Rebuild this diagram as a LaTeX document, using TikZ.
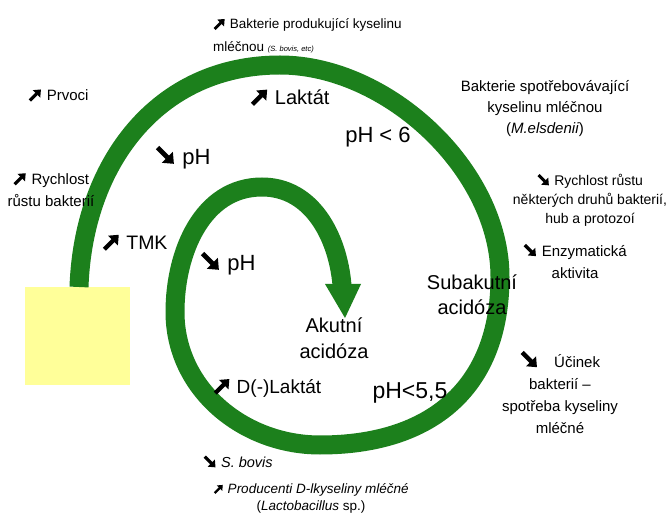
\documentclass[tikz,border=0pt]{standalone}
\usepackage{fontspec}
\usetikzlibrary{arrows.meta}
\setmainfont{Liberation Sans}
\newcommand\arrUp{\tikz[baseline=0pt,x=1em,y=1em]{\draw[black,line width=.22em,line cap=butt,-{Triangle[width=.68em,length=.42em]}] (0.04,0.0)--(0.78,0.74);}}
\newcommand\arrDn{\tikz[baseline=0pt,x=1em,y=1em]{\draw[black,line width=.22em,line cap=butt,-{Triangle[width=.68em,length=.42em]}] (0.04,0.76)--(0.78,0.02);}}
\newcommand\fsz[2]{\fontsize{#1}{#2}\selectfont}
\definecolor{ringgreen}{RGB}{28,128,28}
\definecolor{boxyellow}{RGB}{255,255,153}
\begin{document}
\begin{tikzpicture}[x=1pt,y=1pt,
  lbl/.style={inner sep=0pt, text=black},
  ring/.style={draw=ringgreen, line width=19pt, line cap=butt}]
\useasboundingbox (0,0) rectangle (672,517);
% yellow box
\node[fill=boxyellow, inner sep=0pt, minimum width=105pt, minimum height=98pt, anchor=south west] (box) at (25,132) {};
% spiral
\coordinate (s0) at (79,230);
\coordinate (s1) at (280,452);
\coordinate (s2) at (500,240);
\coordinate (s3) at (320,72);
\coordinate (s4) at (175,205);
\coordinate (s5) at (262,330);
\coordinate (s6) at (342,232);
\draw[ring] (s0) to[out=88,in=180,looseness=1.05] (s1)
  to[out=0,in=90,looseness=0.9] (s2)
  to[out=-90,in=0,looseness=1.15] (s3)
  to[out=180,in=-90] (s4)
  to[out=90,in=180] (s5)
  to[out=0,in=95] (s6);
\fill[ringgreen] (325,233) -- (361,233) -- (345,199) -- cycle;
% labels
\node[lbl, anchor=west, align=left, font=\fsz{13.5}{23}] (t1) at (213,481.5)
  {\arrUp{} Bakterie produkující kyselinu\\mléčnou {\fsz{7.5}{9}\itshape(S. bovis, etc)}};
\node[lbl, anchor=west, font=\fsz{15}{20}] (t2) at (28,422) {\arrUp{} Prvoci};
\node[lbl, align=center, font=\fsz{15}{22}] (t3) at (51,328) {\arrUp{} Rychlost\\růstu bakterií};
\node[lbl, anchor=west, font=\fsz{20}{24}] (t4) at (250,420) {\arrUp{} Laktát};
\node[lbl, font=\fsz{22}{26}] (t5) at (378,380) {pH < 6};
\node[lbl, anchor=west, font=\fsz{22}{26}] (t6) at (155,360) {\arrDn{} pH};
\node[lbl, anchor=west, font=\fsz{19.5}{24}] (t7) at (102,275) {\arrUp{} TMK};
\node[lbl, anchor=west, font=\fsz{22}{26}] (t8) at (200,254) {\arrDn{} pH};
\node[lbl, align=center, font=\fsz{20}{26}] (t9) at (334,179) {Akutní\\acidóza};
\node[lbl, align=center, font=\fsz{20}{25}] (t10) at (472,222) {Subakutní\\acidóza};
\node[lbl, font=\fsz{23}{27}] (t11) at (410,124) {pH<5,5};
\node[lbl, anchor=west, font=\fsz{19}{24}] (t12) at (213,130) {\arrUp{} D(-)Laktát};
\node[lbl, align=center, font=\fsz{15}{21}] (t13) at (545,408) {Bakterie spotřebovávající\\kyselinu mléčnou\\(\textit{M.elsdenii})};
\node[lbl, align=center, font=\fsz{14}{19}] (t14) at (590,317) {\arrDn{} Rychlost růstu\\některých druhů bakterií,\\hub a protozoí};
\node[lbl, align=center, font=\fsz{15}{22}] (t15) at (575,256) {\arrDn{} Enzymatická\\aktivita};
\node[lbl, align=center, font=\fsz{15}{22}] (t16) at (560,125) {{\fsz{20}{22}\arrDn}\quad Účinek\\bakterií –\\spotřeba kyseliny\\mléčné};
\node[lbl, anchor=west, font=\fsz{14.5}{18}] (t17) at (203,55) {\arrDn{} \textit{S. bovis}};
\node[lbl, align=center, font=\fsz{13.5}{17}] (t18) at (311,19) {{\fsz{11}{17}\arrUp} \textit{Producenti D-lkyseliny mléčné}\\(\textit{Lactobacillus} sp.)};
\end{tikzpicture}
\end{document}
